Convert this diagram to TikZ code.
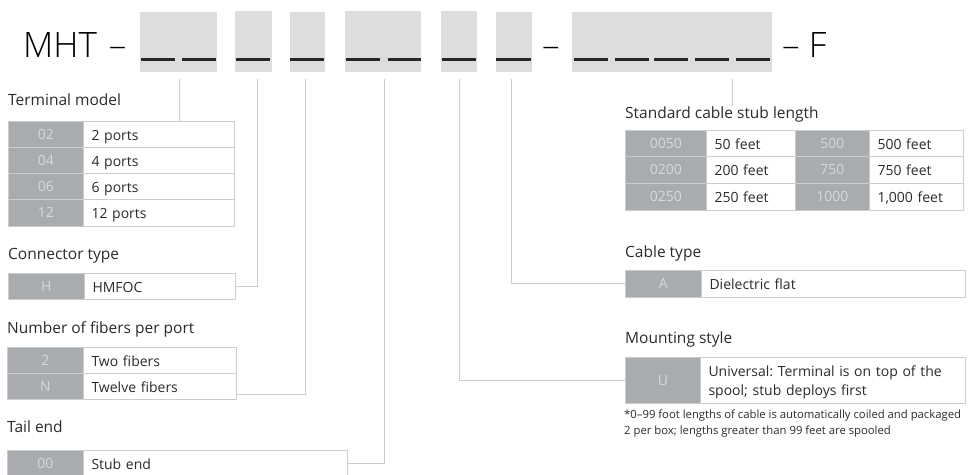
\documentclass[tikz,border=0pt]{standalone}
\usepackage{fontspec}
\setmainfont{Open Sans}
\newfontfamily\lightfont{Open Sans Light}
\usetikzlibrary{calc}
\definecolor{slot}{HTML}{DCDDDF}
\definecolor{keyg}{HTML}{A9ACAF}
\definecolor{keyt}{HTML}{D6D8DA}
\definecolor{rulec}{HTML}{CBCDCF}
\definecolor{inkc}{HTML}{2B2B2B}
\tikzset{
  x=1pt,y=-1pt,
  slotbox/.style={fill=slot,draw=none,anchor=north west,inner sep=0pt},
  dashline/.style={line width=2.2pt,draw=inkc!90!black},
  keycell/.style={fill=keyg,draw=rulec,line width=.7pt,anchor=north west,inner sep=0pt,text=keyt,text height=10pt,text depth=-1pt,font=\fontsize{14}{16}\selectfont},
  desccell/.style={fill=white,draw=rulec,line width=1pt,anchor=north west,inner ysep=0pt,inner xsep=8pt,align=left,text=inkc,font=\fontsize{14}{19}\selectfont\frenchspacing},
  heading/.style={anchor=base west,inner sep=0pt,text=inkc,font=\fontsize{15.5}{18}\selectfont},
  bigtext/.style={anchor=base west,inner sep=0pt,text=black,font=\fontsize{35}{40}\lightfont\selectfont},
  leader/.style={draw=rulec,line width=1pt},
}
\newcommand{\slotat}[5]{\node[slotbox,minimum width=#4pt,minimum height=#5pt] (#1) at (#2,#3) {};}
\newcommand{\keyat}[6]{\node[keycell,minimum width=#4pt,minimum height=#5pt] (#1) at (#2,#3) {#6};}
\newcommand{\descat}[6]{\node[desccell,text width=#4pt-16pt,minimum height=#5pt] (#1) at (#2,#3) {\rule[-5.7pt]{0pt}{22.7pt}#6\strut};}
\begin{document}
\begin{tikzpicture}
\useasboundingbox (0,0) rectangle (969,474);
\clip (0,0) rectangle (969,474);
% title
\node[bigtext] (mht) at (23,57) {MHT\hspace{3pt} –};
\slotat{s1}{140}{12}{77}{60}
\slotat{s2}{235}{11}{37}{61}
\slotat{s3}{290}{12}{35}{60}
\slotat{s4}{345}{11}{76}{61}
\slotat{s5}{441}{11}{36}{61}
\slotat{s6}{496}{12}{36}{60}
\slotat{s7}{572}{12}{200}{60}
\node[bigtext] (dash1) at (542,57) {–};
\node[bigtext] (dash2) at (782,57) {– F};
\foreach \a/\b in {141/175,182/216,236/270,290/324,346/380,388/421,442/476,496/531,574/608,615/649,654/688,695/729,736/770}
  \draw[dashline] (\a,59.5) -- (\b,59.5);
% Terminal model
\node[heading] (h1) at (8,105) {Terminal model};
\keyat{k02}{8}{121}{75}{26}{02}
\keyat{k04}{8}{147}{75}{26}{04}
\keyat{k06}{8}{173}{75}{26}{06}
\keyat{k12}{8}{199}{75}{27}{12}
\descat{d02}{83}{121}{151}{26}{2 ports}
\descat{d04}{83}{147}{151}{26}{4 ports}
\descat{d06}{83}{173}{151}{26}{6 ports}
\descat{d12}{83}{199}{151}{27}{12 ports}
% Connector type
\node[heading] (h2) at (8,259) {Connector type};
\keyat{kH}{8}{273}{76}{26}{H}
\descat{dH}{84}{273}{151}{26}{HMFOC}
% Fibers
\node[heading] (h3) at (7,333) {Number of fibers per port};
\keyat{k2}{7}{347}{76}{26}{2}
\keyat{kN}{7}{373}{76}{26}{N}
\descat{d2}{83}{347}{153}{26}{Two fibers}
\descat{dN}{83}{373}{153}{26}{Twelve fibers}
% Tail end
\node[heading] (h4) at (7,432) {Tail end};
\keyat{k00}{7}{450}{76}{26}{00}
\descat{d00}{83}{450}{264}{26}{Stub end}
% Stub length
\node[heading] (h5) at (625,118) {Standard cable stub length};
\keyat{k0050}{625}{130}{81}{26}{0050}
\keyat{k0200}{625}{156}{81}{27}{0200}
\keyat{k0250}{625}{183}{81}{27}{0250}
\descat{d0050}{706}{130}{89}{26}{50 feet}
\descat{d0200}{706}{156}{89}{27}{200 feet}
\descat{d0250}{706}{183}{89}{27}{250 feet}
\keyat{k500}{795}{130}{74}{26}{500}
\keyat{k750}{795}{156}{74}{27}{750}
\keyat{k1000}{795}{183}{74}{27}{1000}
\descat{d500}{869}{130}{94}{26}{500 feet}
\descat{d750}{869}{156}{94}{27}{750 feet}
\descat{d1000}{869}{183}{94}{27}{1,000 feet}
% Cable type
\node[heading] (h6) at (625,257) {Cable type};
\keyat{kA}{625}{270}{76}{27}{A}
\descat{dA}{701}{270}{264}{27}{Dielectric flat}
% Mounting style
\node[heading] (h7) at (625,343) {Mounting style};
\keyat{kU}{625}{357}{75}{46}{U}
\descat{dU}{700}{357}{265}{46}{Universal: Terminal is on top of the\\spool; stub deploys first}
\node[anchor=north west,inner sep=0pt,align=left,text=inkc,font=\fontsize{11.3}{16}\selectfont] (note) at (624,410) {*0–99 foot lengths of cable is automatically coiled and packaged\\2 per box; lengths greater than 99 feet are spooled};
% connectors
\coordinate (c1) at (179,79);
\coordinate (c2) at (257,79);
\coordinate (c3) at (305,79);
\coordinate (c4) at (384,79);
\coordinate (c5) at (459,79);
\coordinate (c6) at (511.5,79);
\coordinate (c7) at (732,79);
\coordinate (e3) at (236,394);
\draw[leader] (c1) -- (c1 |- d02.north);
\draw[leader] (c2) |- (dH.east);
\draw[leader] (c3) |- (e3);
\draw[leader] (c4) |- (d00.east);
\draw[leader] (c5) |- (kU.west);
\draw[leader] (c6) |- (kA.west);
\draw[leader] (c7) -- (c7 |- h5.north);
\end{tikzpicture}
\end{document}
